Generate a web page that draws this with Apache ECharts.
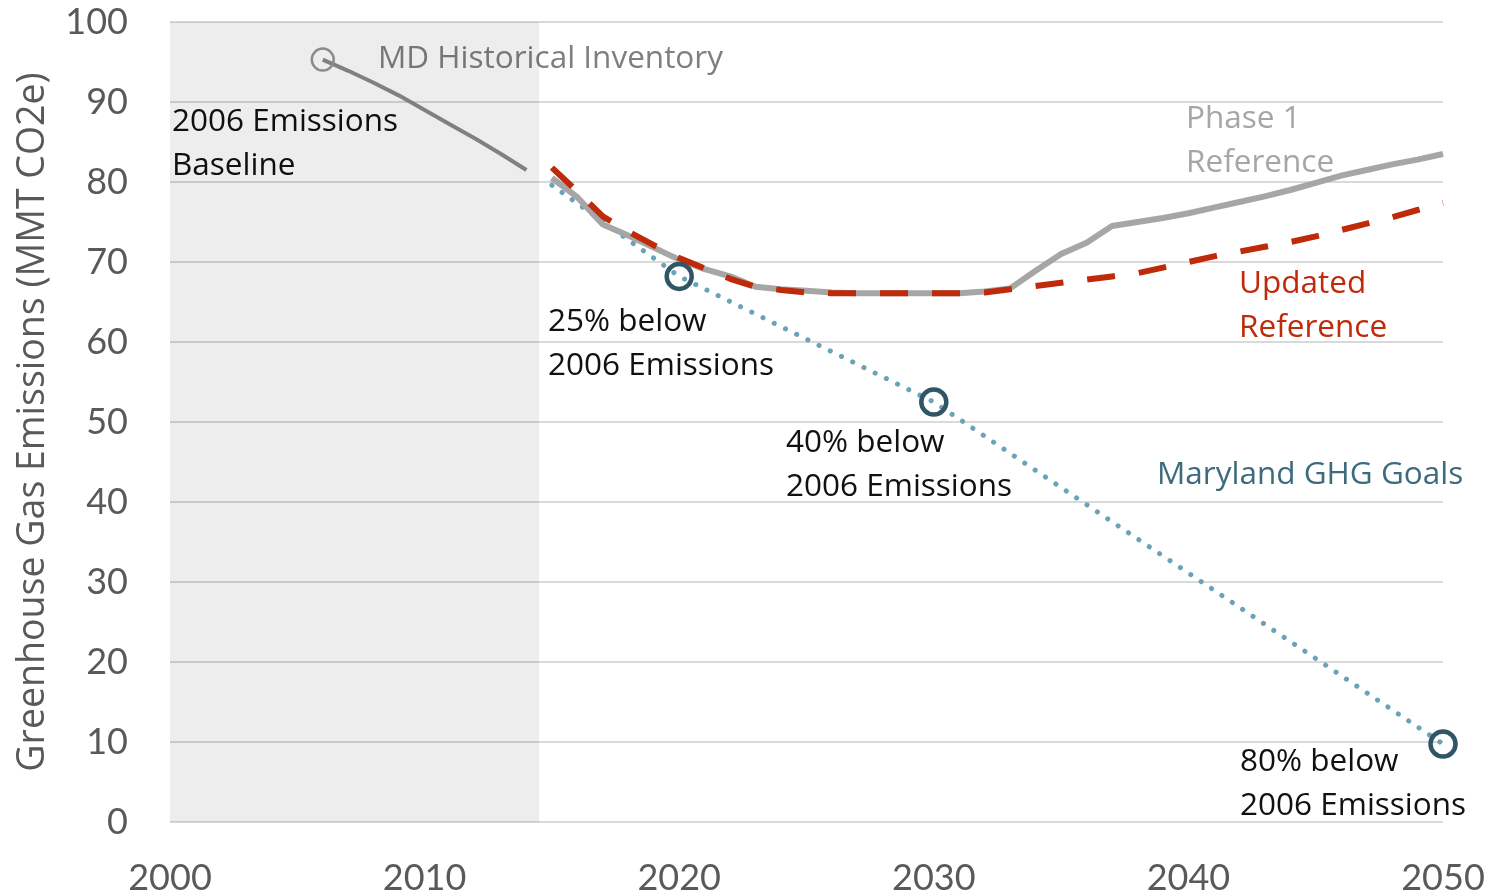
<!DOCTYPE html>
<html><head><meta charset="utf-8">
<script src="https://cdn.jsdelivr.net/npm/echarts@6/dist/echarts.min.js"></script>
<style>html,body{margin:0;padding:0;background:#fff}#c{width:1493px;height:896px}</style>
</head><body><div id="c"></div>
<script>
const xTicks = [2000, 2010, 2020, 2030, 2040, 2050];
const yTicks = [0, 10, 20, 30, 40, 50, 60, 70, 80, 90, 100];
const histYears = [2006, 2007, 2008, 2009, 2010, 2011, 2012, 2013, 2014];
const histValues = [95.3, 93.9, 92.4, 90.8, 89.0, 87.2, 85.4, 83.5, 81.5];
const projYears = [2015,2016,2017,2018,2019,2020,2021,2022,2023,2024,2025,2026,2027,2028,2029,2030,2031,2032,2033,2034,2035,2036,2037,2038,2039,2040,2041,2042,2043,2044,2045,2046,2047,2048,2049,2050];
const phase1Values = [80.5,78.1,74.7,73.3,71.8,70.3,69.1,68.2,66.9,66.6,66.4,66.2,66.1,66.1,66.1,66.1,66.1,66.3,66.7,68.9,71.0,72.4,74.5,75.0,75.5,76.1,76.8,77.5,78.2,79.0,79.9,80.8,81.5,82.2,82.8,83.5];
const updatedValues = [81.8,78.8,75.7,73.8,72.1,70.5,69.2,67.9,66.9,66.5,66.2,66.1,66.1,66.1,66.1,66.1,66.1,66.2,66.6,67.0,67.4,67.8,68.2,68.6,69.3,70.0,70.7,71.3,71.9,72.5,73.2,74.0,74.8,75.6,76.5,77.4];
const goalYears = [2015, 2020, 2030, 2050];
const goalValues = [79.6, 68.2, 52.5, 9.75];
const shadeRange = [2000, 2014.5];

const zip = (xs, ys) => xs.map((x, i) => [x, ys[i]]);
const F = 'Lato, "Open Sans", sans-serif';
const FA = '"Open Sans", Lato, sans-serif';

const chart = echarts.init(document.getElementById('c'));
const txt = (x, y, s, color) => ({
  type: 'text', left: x, top: y,
  style: { text: s, fill: color, font: '31.5px ' + FA, lineHeight: 44 }
});
chart.setOption({
  animation: false,
  grid: { left: 170, right: 50, top: 22, bottom: 74, containLabel: false, outerBoundsMode: 'none' },
  xAxis: {
    type: 'value', min: xTicks[0], max: xTicks[xTicks.length - 1], interval: 10,
    axisLine: { show: false }, axisTick: { show: false }, splitLine: { show: false },
    axisLabel: { color: '#595959', fontSize: 36, fontFamily: F, margin: 38, formatter: v => String(v) }
  },
  yAxis: {
    type: 'value', min: yTicks[0], max: yTicks[yTicks.length - 1], interval: 10,
    name: 'Greenhouse Gas Emissions (MMT CO2e)', nameLocation: 'middle', nameGap: 118, nameRotate: 90,
    nameTextStyle: { color: '#595959', fontSize: 37.5, fontFamily: FA },
    axisLine: { show: false }, axisTick: { show: false },
    axisLabel: { color: '#595959', fontSize: 36, fontFamily: F, margin: 42 },
    splitLine: { lineStyle: { color: '#d9d9d9', width: 2 } }
  },
  series: [
    {
      type: 'line', data: [], silent: true,
      markArea: { silent: true, itemStyle: { color: 'rgba(0,0,0,0.07)' },
        data: [[{ xAxis: shadeRange[0] }, { xAxis: shadeRange[1] }]] }
    },
    {
      name: 'Maryland GHG Goals', type: 'line',
      data: zip(goalYears, goalValues).map((d, i) => i === 0 ? { value: d, symbol: 'none' } : d),
      symbol: 'circle', symbolSize: 25,
      itemStyle: { color: 'rgba(0,0,0,0)', borderColor: '#2f5566', borderWidth: 4.5 },
      lineStyle: { color: '#6aa2b9', width: 5, type: [0.1, 12.4], cap: 'round' }
    },
    {
      name: 'Phase 1 Reference', type: 'line', data: zip(projYears, phase1Values),
      showSymbol: false, lineStyle: { color: '#a6a6a6', width: 6 }
    },
    {
      name: 'Updated Reference', type: 'line', data: zip(projYears, updatedValues),
      showSymbol: false, lineStyle: { color: '#bf2a0a', width: 6, type: [28, 24] }
    },
    {
      name: 'MD Historical Inventory', type: 'line',
      data: zip(histYears, histValues).map((d, i) => i === 0 ? d : { value: d, symbol: 'none' }),
      symbol: 'circle', symbolSize: 22,
      itemStyle: { color: 'rgba(0,0,0,0)', borderColor: '#8c8c8c', borderWidth: 2.5 },
      lineStyle: { color: '#808080', width: 4 }
    }
  ],
  graphic: [
    txt(378, 37, 'MD Historical Inventory', '#7f7f7f'),
    txt(172, 100, '2006 Emissions\nBaseline', '#111'),
    txt(1186, 97, 'Phase 1\nReference', '#a6a6a6'),
    txt(1239, 262, 'Updated\nReference', '#bf2a0a'),
    txt(548, 300, '25% below\n2006 Emissions', '#111'),
    txt(786, 421, '40% below\n2006 Emissions', '#111'),
    txt(1157, 453, 'Maryland GHG Goals', '#3d6b7d'),
    txt(1240, 740, '80% below\n2006 Emissions', '#111')
  ]
});
</script></body></html>
